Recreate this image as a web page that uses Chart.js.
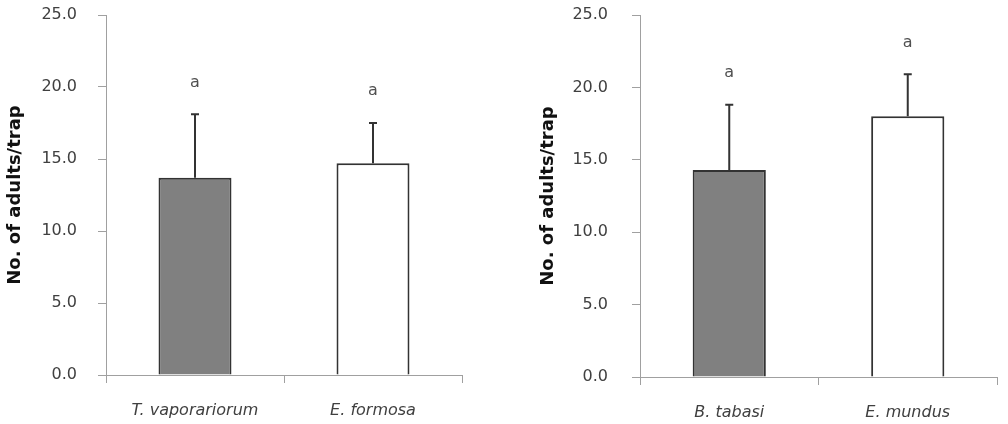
<!DOCTYPE html>
<html>
<head>
<meta charset="utf-8">
<script src="https://cdn.jsdelivr.net/npm/chart.js@4"></script>
<style>
  body { margin: 0; background: #fff; }
  .wrap { display: flex; width: 1008px; height: 424px; }
  canvas { display: block; }
</style>
</head>
<body>
<div class="wrap">
  <canvas id="leftChart" width="504" height="424"></canvas>
  <canvas id="rightChart" width="504" height="424"></canvas>
</div>
<script>
// dados
const leftLabels = ['T. vaporariorum', 'E. formosa'];
const leftMeans = [13.7, 14.7];
const leftErrors = [4.4, 2.8];
const leftLetters = ['a', 'a'];

const rightLabels = ['B. tabasi', 'E. mundus'];
const rightMeans = [14.3, 18.0];
const rightErrors = [4.5, 2.9];
const rightLetters = ['a', 'a'];

const yTicks = [0, 5, 10, 15, 20, 25];

const axisColor = '#a0a0a0';
const textColor = '#404040';

// barras de erro + letras de significância
const errorBarPlugin = {
    id: 'errorBars',
    afterDatasetsDraw(chart, args, opts) {
        const ctx = chart.ctx;
        const y = chart.scales.y;
        const meta = chart.getDatasetMeta(0);
        ctx.save();
        meta.data.forEach((bar, i) => {
            const top = y.getPixelForValue(opts.means[i] + opts.errors[i]);
            const base = y.getPixelForValue(opts.means[i]);
            ctx.strokeStyle = '#333';
            ctx.lineWidth = 2;
            ctx.beginPath();
            ctx.moveTo(bar.x, base);
            ctx.lineTo(bar.x, top);
            ctx.moveTo(bar.x - 4, top);
            ctx.lineTo(bar.x + 4, top);
            ctx.stroke();
            ctx.fillStyle = '#505050';
            ctx.font = '16px "DejaVu Sans"';
            ctx.textAlign = 'center';
            ctx.textBaseline = 'middle';
            ctx.fillText(opts.letters[i], bar.x, top - 32);
        });
        ctx.restore();
    }
};

function makeChart(id, labels, means, errors, letters, cfg) {
    return new Chart(document.getElementById(id), {
        type: 'bar',
        data: {
            labels: labels,
            datasets: [{
                data: means,
                backgroundColor: ['#808080', '#ffffff'],
                borderColor: '#333',
                borderWidth: 2,
                categoryPercentage: 1,
                barPercentage: 0.41
            }]
        },
        options: {
            responsive: false,
            animation: false,
            layout: { padding: { left: 0, right: cfg.padRight, top: 15, bottom: 0 } },
            plugins: {
                legend: { display: false },
                tooltip: { enabled: false },
                errorBars: { means: means, errors: errors, letters: letters }
            },
            scales: {
                x: {
                    afterFit: (s) => { s.height = cfg.xHeight; },
                    grid: { drawOnChartArea: false, tickLength: 8, color: axisColor, offset: true },
                    border: { color: axisColor },
                    ticks: {
                        color: textColor,
                        padding: 18,
                        font: { family: 'DejaVu Sans', size: 16, style: 'italic' }
                    }
                },
                y: {
                    min: 0,
                    max: 25,
                    afterFit: (s) => {
                        s.width = cfg.yWidth;
                        s.paddingTop = 0;
                        s.paddingBottom = 0;
                    },
                    afterBuildTicks: (s) => { s.ticks = yTicks.map(v => ({ value: v })); },
                    grid: { drawOnChartArea: false, tickLength: 8, color: axisColor },
                    border: { color: axisColor },
                    ticks: {
                        color: textColor,
                        padding: cfg.tickPad,
                        font: { family: 'DejaVu Sans', size: 16 },
                        callback: (v) => Number(v).toFixed(1)
                    },
                    title: {
                        display: true,
                        text: 'No. of adults/trap',
                        color: '#111',
                        padding: { top: cfg.titlePad, bottom: 0 },
                        font: { family: 'DejaVu Sans', size: 18, weight: 'bold' }
                    }
                }
            }
        },
        plugins: [errorBarPlugin]
    });
}

makeChart('leftChart', leftLabels, leftMeans, leftErrors, leftLetters,
    { padRight: 42, xHeight: 49, yWidth: 106, tickPad: 21, titlePad: 5 });
makeChart('rightChart', rightLabels, rightMeans, rightErrors, rightLetters,
    { padRight: 11, xHeight: 47, yWidth: 136, tickPad: 24, titlePad: 34 });
</script>
</body>
</html>
